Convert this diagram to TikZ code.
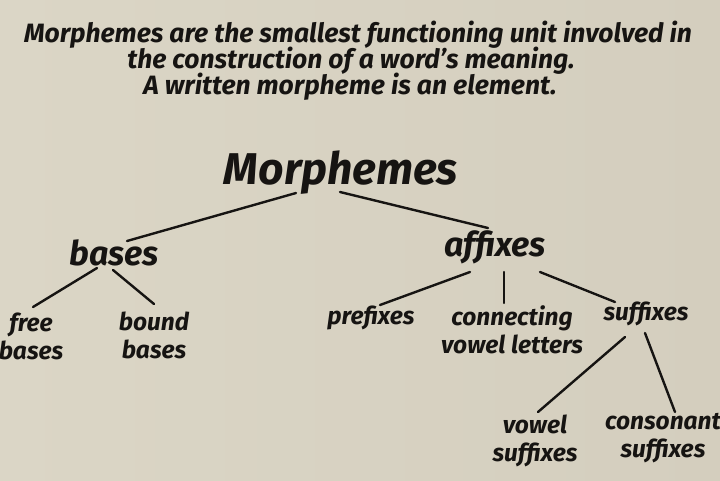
\documentclass[tikz,border=0pt]{standalone}
\usepackage{fontspec}
\setmainfont{Fira Sans}
\usetikzlibrary{calc}
\definecolor{paper}{RGB}{219,214,198}
\definecolor{paperR}{RGB}{212,206,190}
\definecolor{ink}{RGB}{22,20,18}
\tikzset{
  lbl/.style={inner sep=0pt, align=center, text=ink, font=\fontsize{24.5}{28}\selectfont\bfseries\itshape},
  mid/.style={inner sep=0pt, align=center, text=ink, font=\fontsize{34}{38}\selectfont\bfseries\itshape},
  top/.style={inner sep=0pt, align=center, text=ink, font=\fontsize{44.5}{48}\selectfont\bfseries\itshape},
  head/.style={inner sep=0pt, align=center, text=ink, font=\fontsize{26.5}{30}\selectfont\bfseries\itshape},
  tl/.style={draw=ink, line width=2.4pt, line cap=round}
}
\begin{document}
\begin{tikzpicture}[x=1pt,y=-1pt]
\shade[left color=paper, right color=paperR] (0,0) rectangle (720,480);
\useasboundingbox (0,0) rectangle (720,480);
\node[head] (t1) at (358,35) {Morphemes are the smallest functioning unit involved in};
\node[head] (t2) at (351,61) {the construction of a word's meaning.};
\node[head] (t3) at (350,87) {A written morpheme is an element.};
\node[top] (M) at (341,173) {Morphemes};
\node[mid] (bases) at (114,253) {bases};
\node[mid] (affixes) at (495,247) {affixes};
\node[lbl] (free) at (31,336) {free\\bases};
\node[lbl] (bound) at (154,335) {bound\\bases};
\node[lbl] (prefixes) at (371,318) {prefixes};
\node[lbl] (conn) at (512,330) {connecting\\vowel letters};
\node[lbl] (suffixes) at (646,314) {suffixes};
\node[lbl] (vsuf) at (535,441) {vowel\\suffixes};
\node[lbl] (csuf) at (663,438) {consonant\\suffixes};
\draw[tl] ($(M.center)+(-45,20)$) -- ($(bases.center)+(13,-12)$);
\draw[tl] ($(M.center)+(-1,19)$) -- ($(affixes.center)+(-7,-19)$);
\draw[tl] ($(bases.center)+(-17,15)$) -- ($(free.center)+(2,-29)$);
\draw[tl] ($(bases.center)+(-1,17)$) -- ($(bound.center)+(0,-31)$);
\draw[tl] ($(affixes.center)+(-25,25)$) -- ($(prefixes.center)+(9,-13)$);
\draw[tl] ($(affixes.center)+(9,25)$) -- ($(conn.center)+(-8,-27)$);
\draw[tl] ($(affixes.center)+(45,25)$) -- ($(suffixes.center)+(-31,-12)$);
\draw[tl] ($(suffixes.center)+(-21,23)$) -- ($(vsuf.center)+(3,-29)$);
\draw[tl] ($(suffixes.center)+(-1,19)$) -- ($(csuf.center)+(12,-26)$);
\end{tikzpicture}
\end{document}
